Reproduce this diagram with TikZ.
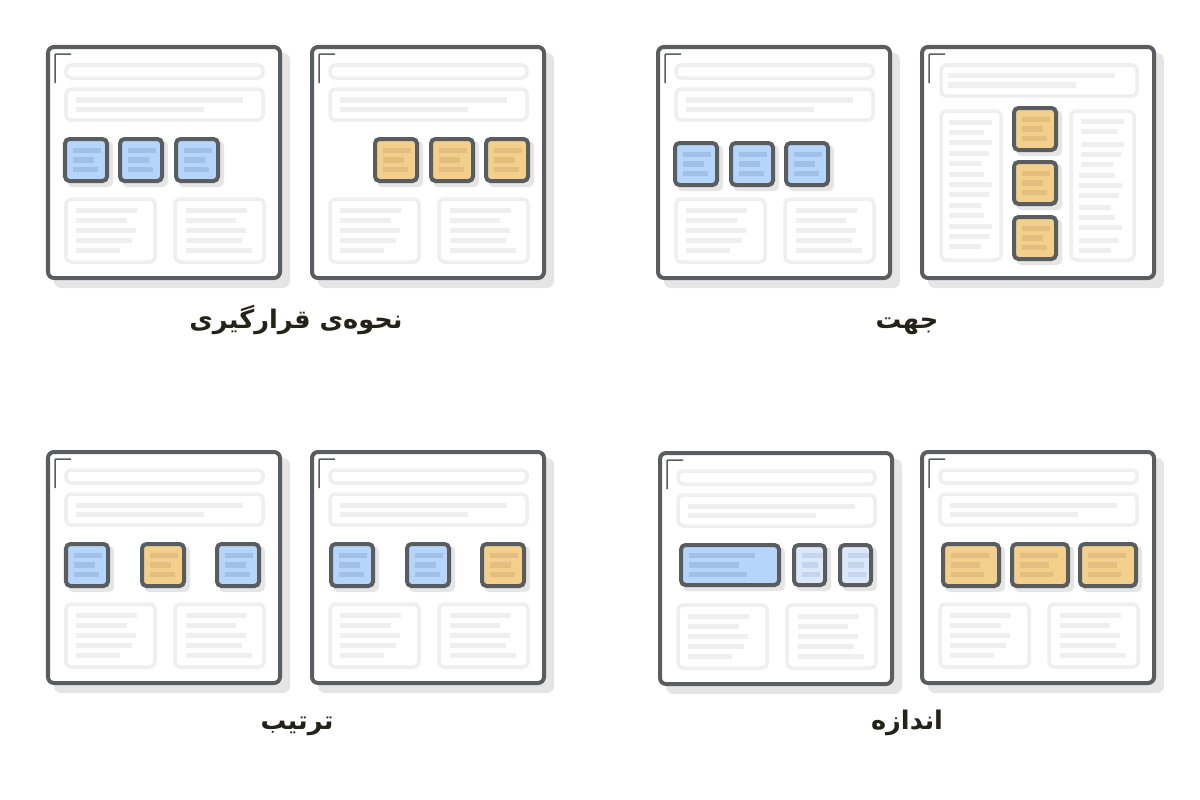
\documentclass[tikz,border=0pt]{standalone}
\usepackage{fontspec}
\usepackage{tikz}
\usetikzlibrary{positioning}
\TeXXeTstate=1
\newfontfamily\arabicfont[Script=Arabic]{DejaVu Sans}
\definecolor{framegrey}{RGB}{90, 93, 96}
\definecolor{shadegrey}{RGB}{229, 229, 229}
\definecolor{ghostgrey}{RGB}{239, 239, 239}
\definecolor{tileblue}{RGB}{181, 213, 252}
\definecolor{inkblue}{RGB}{160, 192, 232}
\definecolor{tilepale}{RGB}{219, 232, 250}
\definecolor{inkpale}{RGB}{196, 213, 237}
\definecolor{tileorange}{RGB}{243, 207, 140}
\definecolor{inkorange}{RGB}{227, 190, 128}
\definecolor{captionink}{RGB}{35, 35, 25}

\newcommand{\winframe}{%
  \fill[winshade] (6,6) rectangle (242,241);
  \draw[win] (0,0) rectangle (232,231);
  \draw[cornermark] (7,36) -- (7,7) -- (23,7);}
\newcommand{\stdtop}{%
  \draw[ghost] (18,18) rectangle (215,31);
  \draw[ghost] (18,42) rectangle (215,73);
  \draw[bar] (28,53) -- (195,53);
  \draw[bar] (28,62) -- (156,62);}
\newcommand{\stdbottom}{%
  \draw[ghost] (18,152) rectangle (107,215);
  \draw[ghost] (127,152) rectangle (216,215);
  \foreach \l [count=\i from 0] in {89,79,88,84,72}
    \draw[bar] (28,163+10*\i) -- (\l,163+10*\i);
  \foreach \l [count=\i from 0] in {199,188,198,194,204}
    \draw[bar] (138,163+10*\i) -- (\l,163+10*\i);}
\newcommand{\uitile}[6]{%
  \fill[tileshade] ({#1+2},{#2+2}) rectangle ({#1+#3+6},{#2+#4+6});
  \draw[tilebox, fill=#5] (#1,#2) rectangle ({#1+#3},{#2+#4});
  \foreach \f [count=\k from -1] in {0.68,0.52,0.6}
    \draw[tileink, draw=#6] ({#1+7.5},{#2+#4/2+9.5*\k}) -- ++({\f*#3},0);}

\begin{document}
\begin{tikzpicture}[x=0.01cm, y=-0.01cm,
        win/.style={draw=framegrey, fill=white, line width=0.4mm, rounded corners=0.6mm},
        winshade/.style={fill=shadegrey, rounded corners=0.7mm},
        cornermark/.style={draw=framegrey, line width=0.15mm, rounded corners=0.1mm},
        ghost/.style={draw=ghostgrey, line width=0.35mm, rounded corners=0.5mm},
        bar/.style={draw=ghostgrey, line width=0.5mm},
        tilebox/.style={draw=framegrey, line width=0.4mm, rounded corners=0.45mm},
        tileshade/.style={fill=shadegrey, rounded corners=0.5mm},
        tileink/.style={line width=0.52mm},
        caption/.style={anchor=base, text=captionink, font=\arabicfont\bfseries\fontsize{7.3}{9}\selectfont}
    ]
        \useasboundingbox (0,0) rectangle (1200,800);

        % placement
        \begin{scope}[shift={(48,47)}]
            \winframe \stdtop \stdbottom
            \foreach \x in {17,72,128} {\uitile{\x}{92}{42}{42}{tileblue}{inkblue}}
        \end{scope}
        \begin{scope}[shift={(312,47)}]
            \winframe \stdtop \stdbottom
            \foreach \x in {63,119,174} {\uitile{\x}{92}{42}{42}{tileorange}{inkorange}}
        \end{scope}
        \node[caption] (placement) at (296,328) {\beginR نحوه‌ی قرارگیری\endR};

        % direction
        \begin{scope}[shift={(658,47)}]
            \winframe \stdtop \stdbottom
            \foreach \x in {17,73,128} {\uitile{\x}{96}{42}{42}{tileblue}{inkblue}}
        \end{scope}
        \begin{scope}[shift={(922,47)}]
            \winframe
            \draw[ghost] (19,18) rectangle (215,49);
            \draw[bar] (26,28.5) -- (193,28.5);
            \draw[bar] (26,38) -- (154,38);
            \draw[ghost] (19,64) rectangle (79,213);
            \draw[ghost] (149,64) rectangle (212,213);
            \foreach \l [count=\i from 0] in {70,62,70,67,59,62,70,67,59,62,70,67,59}
                \draw[bar] (27,75+10.4*\i) -- (\l,75+10.4*\i);
            \foreach \y/\a/\b in {74.7/159/202, 84.7/159/195, 97/159/202, 107/159/199, 117/159/191,
                128.7/157/193, 138.7/157/200, 148.7/157/197, 160.7/157/189, 170.7/157/193,
                180.7/157/200, 193/157/197, 203/157/189}
                \draw[bar] (\a,\y) -- (\b,\y);
            \foreach \y in {61,115,170} {\uitile{92}{\y}{42}{42}{tileorange}{inkorange}}
        \end{scope}
        \node[caption] (direction) at (907,328) {\beginR جهت\endR};

        % order
        \begin{scope}[shift={(48,452)}]
            \winframe \stdtop \stdbottom
            \uitile{18}{92}{42}{42}{tileblue}{inkblue}
            \uitile{94}{92}{42}{42}{tileorange}{inkorange}
            \uitile{169}{92}{42}{42}{tileblue}{inkblue}
        \end{scope}
        \begin{scope}[shift={(312,452)}]
            \winframe \stdtop \stdbottom
            \uitile{19}{92}{42}{42}{tileblue}{inkblue}
            \uitile{95}{92}{42}{42}{tileblue}{inkblue}
            \uitile{170}{92}{42}{42}{tileorange}{inkorange}
        \end{scope}
        \node[caption] (order) at (297,729) {\beginR ترتیب\endR};

        % size
        \begin{scope}[shift={(660,453)}]
            \winframe \stdtop \stdbottom
            \uitile{21}{92}{98}{40}{tileblue}{inkblue}
            \uitile{134}{92}{31}{40}{tilepale}{inkpale}
            \uitile{180}{92}{31}{40}{tilepale}{inkpale}
        \end{scope}
        \begin{scope}[shift={(922,452)}]
            \winframe \stdtop \stdbottom
            \foreach \x in {21,90,158} {\uitile{\x}{92}{56}{42}{tileorange}{inkorange}}
        \end{scope}
        \node[caption] (size) at (907,729) {\beginR اندازه\endR};
    \end{tikzpicture}
\end{document}
